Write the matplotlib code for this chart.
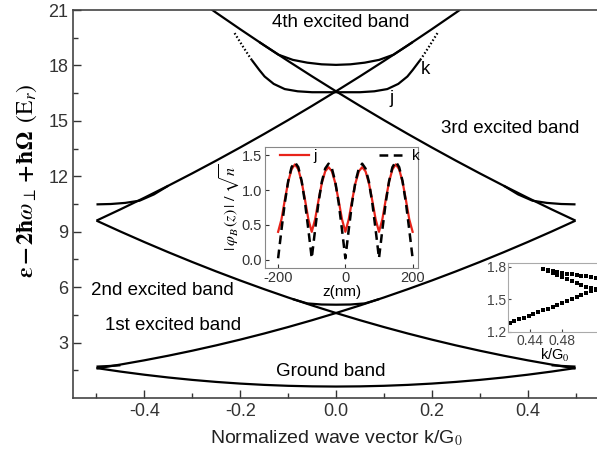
import matplotlib
matplotlib.use('Agg')
import matplotlib.pyplot as plt
import numpy as np

plt.rcParams['font.family'] = ['Liberation Sans', 'DejaVu Sans']
plt.rcParams['mathtext.fontset'] = 'stix'
plt.rcParams['axes.unicode_minus'] = False

# ---- main band structure: k/G0 and energies (E_r) ----
k_grid = [-0.5, -0.45, -0.4, -0.35, -0.3, -0.25, -0.2, -0.15, -0.1, -0.05, 0.0,
          0.05, 0.1, 0.15, 0.2, 0.25, 0.3, 0.35, 0.4, 0.45, 0.5]
ground = [1.62, 1.43, 1.26, 1.11, 0.98, 0.87, 0.78, 0.71, 0.66, 0.63, 0.62,
          0.63, 0.66, 0.71, 0.78, 0.87, 0.98, 1.11, 1.26, 1.43, 1.62]
band1 = [1.60, 1.81, 2.04, 2.29, 2.56, 2.85, 3.16, 3.49, 3.84, 4.21, 4.60,
         5.01, 5.44, 5.89, 6.36, 6.85, 7.36, 7.89, 8.44, 9.01, 9.60]

k_band3 = [-0.5, -0.45, -0.4, -0.35, -0.3, -0.25, -0.2, -0.15, -0.1, -0.05, 0.0,
           0.05, 0.1, 0.15, 0.2, 0.25, 0.3]
band3 = [9.60, 10.21, 10.84, 11.49, 12.16, 12.85, 13.56, 14.29, 15.04, 15.81, 16.60,
         17.41, 18.24, 19.09, 19.96, 20.85, 21.76]

# gap curves near the zone edge
k_edge_hi = [-0.5, -0.47, -0.44, -0.41, -0.38, -0.35]
edge_hi = [10.48, 10.50, 10.56, 10.68, 11.02, 11.49]
k_edge_lo = [-0.5, -0.475, -0.45]
edge_lo = [1.70, 1.73, 1.77]

# small bridge above the crossing at k = 0
k_bridge = [-0.09, -0.06, -0.03, 0.0, 0.03, 0.06, 0.09]
bridge = [5.35, 5.12, 5.06, 5.05, 5.06, 5.12, 5.35]

# bottom of the 4th excited band
k_top = [-0.16, -0.12, -0.09, -0.06, -0.03, 0.0, 0.03, 0.06, 0.09, 0.12, 0.16]
top_band = [19.26, 18.58, 18.30, 18.15, 18.06, 18.03, 18.06, 18.15, 18.30, 18.58, 19.26]

# j / k branch
k_jk = [-0.176, -0.16, -0.149, -0.13, -0.107, -0.08, -0.05, 0.0,
        0.05, 0.08, 0.107, 0.13, 0.149, 0.16, 0.176]
jk = [18.30, 17.75, 17.40, 17.00, 16.72, 16.60, 16.55, 16.55,
      16.55, 16.60, 16.72, 17.00, 17.40, 17.75, 18.30]
k_jk_dots = [0.176, 0.182, 0.188, 0.194, 0.200, 0.206, 0.212]
jk_dots = [18.30, 18.53, 18.77, 19.01, 19.26, 19.51, 19.76]

band_labels = [('4th excited band', 0.01, 20.3), ('3rd excited band', 0.364, 14.6),
               ('2nd excited band', -0.362, 5.8), ('1st excited band', -0.341, 3.9),
               ('Ground band', -0.01, 1.43)]

# ---- inset 1: wave functions ----
z_nm = np.arange(-200, 201, 10)
phi_k = [0.02, 0.43, 0.82, 1.13, 1.33, 1.40, 1.33, 1.13, 0.82, 0.43,
         0.02, 0.43, 0.82, 1.12, 1.31, 1.38, 1.31, 1.12, 0.82, 0.43,
         0.02, 0.43, 0.82, 1.12, 1.31, 1.38, 1.31, 1.12, 0.82, 0.43,
         0.02, 0.43, 0.82, 1.13, 1.33, 1.41, 1.33, 1.13, 0.82, 0.43, 0.02]
phi_j = [0.40, 0.58, 0.86, 1.12, 1.30, 1.37, 1.30, 1.12, 0.86, 0.58,
         0.40, 0.58, 0.85, 1.10, 1.27, 1.33, 1.27, 1.10, 0.85, 0.58,
         0.40, 0.58, 0.85, 1.10, 1.27, 1.33, 1.27, 1.10, 0.85, 0.58,
         0.40, 0.58, 0.86, 1.12, 1.30, 1.37, 1.30, 1.12, 0.86, 0.58, 0.40]

# ---- inset 2: zoom at the zone edge ----
k_zoom_a = [0.414, 0.420, 0.426, 0.432, 0.438, 0.444, 0.450, 0.456, 0.462, 0.468,
            0.474, 0.480, 0.486, 0.492, 0.498, 0.504, 0.510, 0.516, 0.522]
zoom_a = [1.285, 1.300, 1.316, 1.332, 1.348, 1.364, 1.381, 1.398, 1.415, 1.432,
          1.449, 1.467, 1.485, 1.503, 1.521, 1.540, 1.559, 1.578, 1.597]
k_zoom_b = [0.456, 0.462, 0.468, 0.474, 0.480, 0.486, 0.492, 0.498, 0.504, 0.510, 0.516, 0.522]
zoom_b = [1.775, 1.766, 1.758, 1.750, 1.743, 1.736, 1.729, 1.723, 1.717, 1.711, 1.705, 1.700]
zoom_c = [1.775, 1.757, 1.739, 1.721, 1.703, 1.686, 1.668, 1.651, 1.634, 1.617, 1.600, 1.584]

W, H = 597, 459
fig = plt.figure(figsize=(W / 100, H / 100), dpi=100)
ax = fig.add_axes([73 / W, 1 - 398 / H, 526 / W, 388 / H])

lw = 1.6
kw = dict(color='black', lw=lw, solid_capstyle='butt')
for sgn in (1, -1):
    ax.plot(sgn * np.array(k_band3), band3, **kw)
    ax.plot(sgn * np.array(k_grid), band1, **kw)
    ax.plot(sgn * np.array(k_edge_hi), edge_hi, **kw)
    ax.plot(sgn * np.array(k_edge_lo), edge_lo, **kw)
    ax.plot(sgn * np.array(k_jk_dots), jk_dots, color='black', lw=1.6,
            linestyle=(0, (0.7, 1.0)))
ax.plot(k_grid, ground, **kw)
ax.plot(k_bridge, bridge, **kw)
ax.plot(k_top, top_band, **kw)
ax.plot(k_jk, jk, **kw)

for txt, x, y in band_labels:
    ax.text(x, y, txt, ha='center', va='center', fontsize=13.5)
ax.text(0.116, 16.2, 'j', ha='center', va='center', fontsize=13.5)
ax.text(0.187, 17.8, 'k', ha='center', va='center', fontsize=13.5)

ax.set_xlim(-0.549, 0.549)
ax.set_ylim(0, 21)
ax.set_xticks([-0.4, -0.2, 0.0, 0.2, 0.4])
ax.set_xticks([-0.5, -0.3, -0.1, 0.1, 0.3, 0.5], minor=True)
ax.set_yticks([3, 6, 9, 12, 15, 18, 21])
ax.set_yticks([1.5, 4.5, 7.5, 10.5, 13.5, 16.5, 19.5], minor=True)
ax.tick_params(which='both', direction='in', labelsize=13, colors='#333333',
               width=1.0)
ax.tick_params(which='major', length=6)
ax.tick_params(which='minor', length=3.5)
for s in ax.spines.values():
    s.set_color('#444444')
    s.set_linewidth(1.2)
ax.set_xlabel('Normalized wave vector k/G$_0$', fontsize=14, color='#222222',
              labelpad=6)
ylab_bold = (r'$\boldsymbol{\varepsilon - 2\hbar\omega_{\perp} + \hbar\Omega}$'
             r'$\;\;(\mathrm{E}_r)$')
ylab_plain = r'$\varepsilon - 2\hbar\omega_{\perp} + \hbar\Omega\;\;(\mathrm{E}_r)$'
ylab = ax.text(-0.088, 0.56, ylab_bold, transform=ax.transAxes, rotation=90,
               ha='center', va='center', fontsize=17)

# inset 1
ax1 = fig.add_axes([265 / W, 1 - 268 / H, 153 / W, 121 / H])
ax1.plot(z_nm, phi_j, color='#e8231a', lw=1.6, label='j')
ax1.plot(z_nm, phi_k, color='black', lw=1.8, linestyle=(0, (3.5, 2.2)), label='k')
ax1.set_xlim(-239, 216)
ax1.set_ylim(-0.12, 1.62)
ax1.set_xticks([-200, 0, 200])
ax1.set_yticks([0.0, 0.5, 1.0, 1.5])
ax1.tick_params(direction='in', labelsize=10.5, length=3, colors='#333333', pad=2)
for s in ax1.spines.values():
    s.set_color('#888888')
ax1.set_xlabel('z(nm)', fontsize=11, labelpad=0)
ax1.set_ylabel(r'$|\,\varphi_{B}\,(z)\,|\ /\ \sqrt{n}$', fontsize=11.5, labelpad=0)
ax1.legend(loc='upper left', ncol=2, frameon=False, fontsize=11, handlelength=1.85,
           handletextpad=0.3, columnspacing=4.1, borderaxespad=0.0,
           bbox_to_anchor=(0.06, 1.03))

# inset 2
ax2 = fig.add_axes([508 / W, 1 - 332 / H, 94 / W, 69 / H])
for kk, ee in ((k_zoom_a, zoom_a), (k_zoom_b, zoom_b), (k_zoom_b, zoom_c)):
    ax2.plot(kk, ee, 's', color='black', ms=2.4, mew=0)
ax2.set_xlim(0.412, 0.530)
ax2.set_ylim(1.2, 1.834)
ax2.set_xticks([0.44, 0.48])
ax2.set_yticks([1.2, 1.5, 1.8])
ax2.tick_params(direction='in', labelsize=10, length=2.5, colors='#444444', pad=1.5)
for s in ax2.spines.values():
    s.set_color('#aaaaaa')
ax2.set_xlabel('k/G$_0$', fontsize=10.5, labelpad=-1)

try:
    fig.canvas.draw()
except Exception:
    ylab.set_text(ylab_plain)

fig.savefig('out.png', dpi=100)
